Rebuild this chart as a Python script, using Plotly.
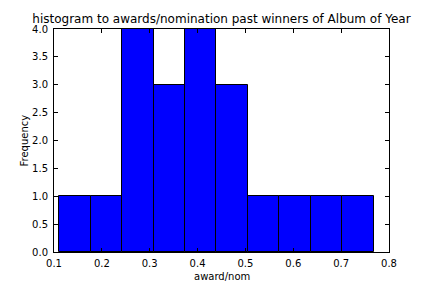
import plotly.graph_objects as go

# Data
bin_edges = [0.111, 0.1767, 0.2424, 0.3081, 0.3738, 0.4395, 0.5052, 0.5709, 0.6366, 0.7023, 0.768]
counts = [1, 1, 4, 3, 4, 3, 1, 1, 1, 1]
x_ticks = [0.1, 0.2, 0.3, 0.4, 0.5, 0.6, 0.7, 0.8]
y_ticks = [0.0, 0.5, 1.0, 1.5, 2.0, 2.5, 3.0, 3.5, 4.0]
title_text = "histogram to awards/nomination past winners of Album of Year"
x_label = "award/nom"
y_label = "Frequency"

centers = [(a + b) / 2 for a, b in zip(bin_edges[:-1], bin_edges[1:])]
widths = [b - a for a, b in zip(bin_edges[:-1], bin_edges[1:])]

FONT = "DejaVu Sans"

fig = go.Figure(
    go.Bar(
        x=centers,
        y=counts,
        width=widths,
        marker=dict(color="#0000ff", line=dict(color="black", width=1)),
        hoverinfo="skip",
    )
)

axis_common = dict(
    showline=True,
    linecolor="black",
    linewidth=1,
    mirror="ticks",
    ticks="inside",
    ticklen=4,
    tickwidth=1,
    tickcolor="black",
    showgrid=False,
    zeroline=False,
    tickfont=dict(family=FONT, size=10, color="black"),
)

fig.update_layout(
    width=432,
    height=288,
    margin=dict(l=54, r=43, t=29, b=36),
    paper_bgcolor="white",
    plot_bgcolor="white",
    showlegend=False,
    bargap=0,
    title=dict(
        text=title_text,
        font=dict(family=FONT, size=12, color="black"),
        x=0.5,
        xref="paper",
        xanchor="center",
        y=1 - 18.5 / 288,
        yref="container",
        yanchor="middle",
    ),
    xaxis=dict(
        range=[0.1, 0.8],
        tickvals=x_ticks,
        ticktext=[f"{v:.1f}" for v in x_ticks],
        ticklabelstandoff=2,
        **axis_common,
    ),
    yaxis=dict(
        range=[0, 4],
        tickvals=y_ticks,
        ticktext=[f"{v:.1f}" for v in y_ticks],
        ticklabelstandoff=3,
        **axis_common,
    ),
    annotations=[
        dict(
            text=x_label,
            xref="paper",
            yref="paper",
            x=0.5,
            y=0,
            yshift=-24,
            xanchor="center",
            yanchor="middle",
            showarrow=False,
            font=dict(family=FONT, size=10, color="black"),
        ),
        dict(
            text=y_label,
            xref="paper",
            yref="paper",
            x=0,
            y=0.5,
            xshift=-30,
            xanchor="center",
            yanchor="middle",
            textangle=-90,
            showarrow=False,
            font=dict(family=FONT, size=10, color="black"),
        ),
    ],
)

fig.write_html("out.html")
